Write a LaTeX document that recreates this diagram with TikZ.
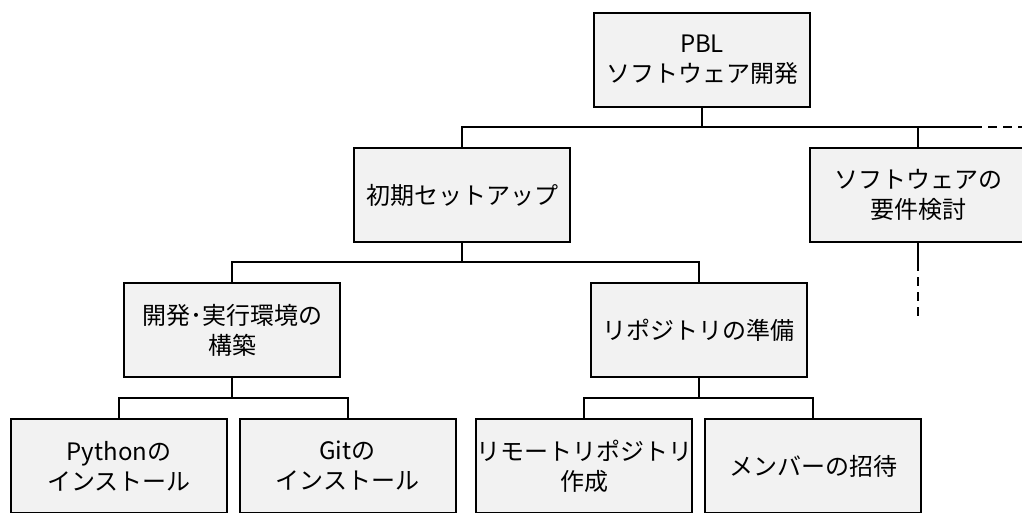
\documentclass[tikz,border=0pt]{standalone}
\usepackage{fontspec}
\setmainfont{Noto Sans CJK JP}
\definecolor{boxfill}{HTML}{F2F2F2}
\tikzset{
  wbs/.style={draw=black, line width=2pt, fill=boxfill, minimum width=216pt, minimum height=94pt,
    inner sep=0pt, align=center, font=\fontsize{24}{30}\selectfont},
  conn/.style={line width=2pt},
  dconn/.style={line width=2pt, dash pattern=on 9pt off 6pt}
}
\begin{document}
\begin{tikzpicture}[x=1pt,y=-1pt]
\useasboundingbox (0,0) rectangle (1022,512);
\clip (0,0) rectangle (1022,512);
\node[wbs] (root) at (702,59.5) {PBL\\ソフトウェア開発};
\node[wbs] (init) at (462,195) {初期セットアップ};
\node[wbs] (req) at (918,195) {ソフトウェアの\\要件検討};
\node[wbs] (dev) at (232,330) {開発･実行環境の\\構築};
\node[wbs] (repo) at (698.5,330) {リポジトリの準備};
\node[wbs] (py) at (119,466) {Pythonの\\インストール};
\node[wbs] (git) at (347.5,466) {Gitの\\インストール};
\node[wbs] (remote) at (584,466) {リモートリポジトリ\\作成};
\node[wbs] (member) at (813,466) {メンバーの招待};
\coordinate (j0) at (702,127);
\coordinate (e1) at (973,127);
\coordinate (e2) at (1024,127);
\coordinate (d1) at (918,262);
\coordinate (d2) at (918,318);
\draw[conn] (root.south) -- (j0);
\draw[conn] (init.north) |- (e1);
\draw[dconn] (e1) -- (e2);
\draw[conn] (req.north) -- (req.north |- e1);
\draw[conn] (req.south) -- (d1);
\draw[dconn] (d1) -- (d2);
\coordinate (j1) at (462,262);
\draw[conn] (init.south) -- (j1);
\draw[conn] (dev.north) |- (j1) -| (repo.north);
\coordinate (j2) at (232,398);
\draw[conn] (dev.south) -- (j2);
\draw[conn] (py.north) |- (j2) -| (git.north);
\coordinate (j3) at (698.5,398);
\draw[conn] (repo.south) -- (j3);
\draw[conn] (remote.north) |- (j3) -| (member.north);
\end{tikzpicture}
\end{document}
